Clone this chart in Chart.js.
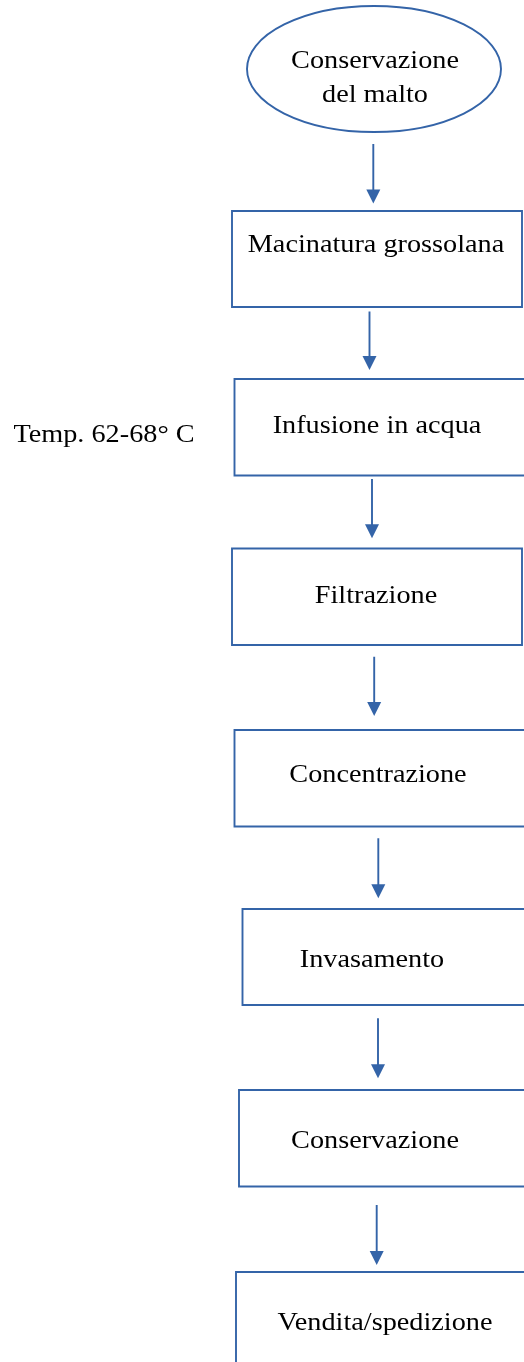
<!DOCTYPE html>
<html>
<head>
<meta charset="utf-8">
<script src="https://cdn.jsdelivr.net/npm/chart.js@4"></script>
<style>
  html, body { margin: 0; padding: 0; background: #fff; }
  #wrap { width: 524px; height: 1362px; position: relative; }
</style>
</head>
<body>
<div id="wrap"><canvas id="flow"></canvas></div>
<script>
// ---- dati del diagramma (unità del grafico) ----
const startLines = ['Conservazione', 'del malto'];
const startCenter = [374, 69];
const startRadius = [127, 63];
const startBaselines = [68, 102];

const stepLabels = ['Macinatura grossolana', 'Infusione in acqua', 'Filtrazione', 'Concentrazione', 'Invasamento', 'Conservazione', 'Vendita/spedizione'];
const boxLeft = [232, 234.5, 232, 234.5, 242.5, 239, 236];
const boxRight = [522, 530, 522, 530, 530, 530, 530];
const boxTop = [211, 379, 548.5, 730, 909, 1090, 1272];
const boxBottom = [307, 475.5, 645, 826.5, 1005, 1186.5, 1370];
const labelX = [376, 377, 376, 378, 372, 375, 385];
const labelY = [251.7, 433.3, 603.3, 781.7, 966.7, 1148.3, 1330];

const arrowX = [373.3, 369.5, 372, 374.2, 378.3, 378, 376.7];
const arrowTop = [144, 311.5, 479, 656.7, 838.3, 1018.3, 1205];
const arrowTip = [203.5, 370, 538.3, 716, 898.3, 1078.3, 1265];

const noteText = 'Temp. 62-68° C';
const noteX = 104;
const noteY = 442;

const BLUE = '#3464a8';
const HEAD_LEN = 14;
const HEAD_HALF = 7;
const LINE_W = 1.9;
const FONT = '25px "Liberation Serif", "Times New Roman", serif';
const STRETCH = 1.13;

// ---- dataset: contorni dei riquadri e aste delle frecce ----
const datasets = [];
stepLabels.forEach((_, i) => {
    datasets.push({
        data: [
            { x: boxLeft[i], y: boxTop[i] },
            { x: boxRight[i], y: boxTop[i] },
            { x: boxRight[i], y: boxBottom[i] },
            { x: boxLeft[i], y: boxBottom[i] },
            { x: boxLeft[i], y: boxTop[i] },
        ],
        borderColor: BLUE,
        borderWidth: LINE_W,
        borderJoinStyle: 'miter',
        borderCapStyle: 'square',
        showLine: true,
        pointRadius: 0,
        tension: 0,
    });
});
arrowX.forEach((x, i) => {
    datasets.push({
        data: [
            { x, y: arrowTop[i] },
            { x, y: arrowTip[i] - HEAD_LEN + 1 },
        ],
        borderColor: BLUE,
        borderWidth: LINE_W,
        showLine: true,
        pointRadius: 0,
    });
});

function drawText(ctx, text, px, py) {
    ctx.save();
    ctx.translate(px, py);
    ctx.scale(STRETCH, 1);
    ctx.fillText(text, 0, 0);
    ctx.restore();
}

const flowPlugin = {
    id: 'flowPlugin',
    afterDatasetsDraw(chart) {
        const ctx = chart.ctx;
        const xs = chart.scales.x;
        const ys = chart.scales.y;
        ctx.save();

        // ellisse iniziale
        const cx = xs.getPixelForValue(startCenter[0]);
        const cy = ys.getPixelForValue(startCenter[1]);
        const rx = xs.getPixelForValue(startCenter[0] + startRadius[0]) - cx;
        const ry = ys.getPixelForValue(startCenter[1] + startRadius[1]) - cy;
        ctx.beginPath();
        ctx.ellipse(cx, cy, Math.abs(rx), Math.abs(ry), 0, 0, Math.PI * 2);
        ctx.strokeStyle = BLUE;
        ctx.lineWidth = LINE_W;
        ctx.stroke();

        // punte delle frecce
        ctx.fillStyle = BLUE;
        arrowX.forEach((x, i) => {
            const px = xs.getPixelForValue(x);
            const tip = ys.getPixelForValue(arrowTip[i]);
            const base = ys.getPixelForValue(arrowTip[i] - HEAD_LEN);
            const hw = xs.getPixelForValue(x + HEAD_HALF) - px;
            ctx.beginPath();
            ctx.moveTo(px - hw, base);
            ctx.lineTo(px + hw, base);
            ctx.lineTo(px, tip);
            ctx.closePath();
            ctx.fill();
        });

        // testi
        ctx.fillStyle = '#000';
        ctx.font = FONT;
        ctx.textAlign = 'center';
        ctx.textBaseline = 'alphabetic';
        startLines.forEach((t, i) => {
            drawText(ctx, t, xs.getPixelForValue(startCenter[0] + 1), ys.getPixelForValue(startBaselines[i]));
        });
        stepLabels.forEach((t, i) => {
            drawText(ctx, t, xs.getPixelForValue(labelX[i]), ys.getPixelForValue(labelY[i]));
        });
        drawText(ctx, noteText, xs.getPixelForValue(noteX), ys.getPixelForValue(noteY));

        ctx.restore();
    },
};

new Chart(document.getElementById('flow'), {
    type: 'scatter',
    data: { datasets },
    options: {
        responsive: true,
        maintainAspectRatio: false,
        animation: false,
        devicePixelRatio: 1,
        layout: { padding: 0 },
        plugins: {
            legend: { display: false },
            tooltip: { enabled: false },
        },
        scales: {
            x: { type: 'linear', min: 0, max: 524, display: false },
            y: { type: 'linear', min: 0, max: 1362, reverse: true, display: false },
        },
    },
    plugins: [flowPlugin],
});
</script>
</body>
</html>
